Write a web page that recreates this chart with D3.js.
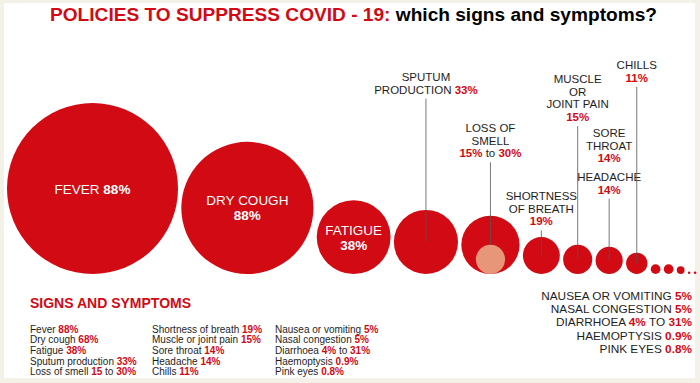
<!DOCTYPE html>
<html>
<head>
<meta charset="utf-8">
<title>Policies to suppress COVID-19: which signs and symptoms?</title>
<style>
  html, body { margin: 0; padding: 0; background: #f3f1e8; }
  svg { display: block; font-family: 'Liberation Sans', Arial, Helvetica, sans-serif; }
</style>
</head>
<body>
<svg id="svg" width="700" height="383"></svg>
<script src="https://cdn.jsdelivr.net/npm/d3@7"></script>
<script>
// circles, in order left to right
const symptoms = ['Fever', 'Dry cough', 'Fatigue', 'Sputum production', 'Loss of smell',
  'Shortness of breath', 'Muscle or joint pain', 'Sore throat / Headache', 'Chills',
  'Nausea or vomiting', 'Nasal congestion', 'Diarrhoea', 'Haemoptysis', 'Pink eyes'];
const rates = [88, 68, 38, 33, 30, 19, 15, 14, 11, 5, 5, 4, 0.9, 0.8];
const lowRates = [null, null, null, null, 15, null, null, null, null, null, null, null, null, null];

// labels; text between * is highlighted
const insideLabels = [['FEVER *88%*'], ['DRY COUGH', '*88%*'], ['FATIGUE', '*38%*']];
const outsideLabels = [
  { idx: 3, lines: ['SPUTUM', 'PRODUCTION *33%*'] },
  { idx: 4, lines: ['LOSS OF', 'SMELL', '*15%* to *30%*'] },
  { idx: 5, lines: ['SHORTNESS', 'OF BREATH', '*19%*'] },
  { idx: 6, lines: ['MUSCLE', 'OR', 'JOINT PAIN', '*15%*'] },
  { idx: 7, lines: ['SORE', 'THROAT', '*14%*'], noLine: true },
  { idx: 7, lines: ['HEADACHE', '*14%*'] },
  { idx: 8, lines: ['CHILLS', '*11%*'] }
];
const outsideTop = [77, 128, 196, 79, 133, 177, 65];

const legendItems = [
  'Fever *88%*', 'Dry cough *68%*', 'Fatigue *38%*', 'Sputum production *33%*', 'Loss of smell *15* to *30%*',
  'Shortness of breath *19%*', 'Muscle or joint pain *15%*', 'Sore throat *14%*', 'Headache *14%*', 'Chills *11%*',
  'Nausea or vomiting *5%*', 'Nasal congestion *5%*', 'Diarrhoea *4%* to *31%*', 'Haemoptysis *0.9%*', 'Pink eyes *0.8%*'
];
const minorItems = ['NAUSEA OR VOMITING *5%*', 'NASAL CONGESTION *5%*', 'DIARRHOEA *4%* TO *31%*',
  'HAEMOPTYSIS *0.9%*', 'PINK EYES *0.8%*'];

const RED = '#d10a14';
const INK = '#1e1e1e';

const svg = d3.select('#svg');

svg.append('rect')
  .attr('x', 4).attr('y', 3).attr('width', 691).attr('height', 375)
  .attr('fill', '#fff');

// mixed text helper
function writeLine(sel, str, hiFill, hiWeight) {
  str.split('*').forEach((part, i) => {
    if (!part) return;
    const t = sel.append('tspan').text(part);
    if (i % 2 === 1) t.attr('fill', hiFill).attr('font-weight', hiWeight);
  });
}

// title
const title = svg.append('text')
  .attr('x', 50).attr('y', 21)
  .attr('font-size', 17.5).attr('font-weight', 'bold')
  .attr('textLength', 607).attr('lengthAdjust', 'spacingAndGlyphs');
title.append('tspan').attr('fill', RED).text('POLICIES TO SUPPRESS COVID - 19:');
title.append('tspan').attr('fill', '#000').text(' which signs and symptoms?');

// circles
const rscale = d3.scaleLinear().domain([0, 88]).range([0, 85.5]);
const baseY = 274;
const gap = 3.3;
let xpos = 7;
const circles = rates.map((v, i) => {
  const r = Math.max(rscale(v), 1.3);
  const c = { name: symptoms[i], value: v, low: lowRates[i], r: r, cx: xpos + r, cy: baseY - r };
  xpos += 2 * r + gap;
  return c;
});

const g = svg.append('g');
g.selectAll('circle.main')
  .data(circles)
  .join('circle')
  .attr('class', 'main')
  .attr('cx', d => d.cx).attr('cy', d => d.cy).attr('r', d => d.r)
  .attr('fill', RED);

g.selectAll('circle.low')
  .data(circles.filter(d => d.low != null))
  .join('circle')
  .attr('class', 'low')
  .attr('cx', d => d.cx)
  .attr('cy', d => baseY - rscale(d.low))
  .attr('r', d => rscale(d.low))
  .attr('fill', '#e8967a');

// labels inside the big circles
insideLabels.forEach((lines, i) => {
  const c = circles[i];
  const lh = 15;
  const t = g.append('text')
    .attr('text-anchor', 'middle')
    .attr('font-size', 13.5)
    .attr('fill', '#fff');
  lines.forEach((ln, j) => {
    const row = t.append('tspan')
      .attr('x', c.cx)
      .attr('y', c.cy + (j - (lines.length - 1) / 2) * lh + 5);
    writeLine(row, ln, '#fff', 'bold');
  });
});

// labels above the smaller circles, with leader lines
outsideLabels.forEach((lab, k) => {
  const c = circles[lab.idx];
  const lh = 12.7;
  const top = outsideTop[k];
  const t = g.append('text')
    .attr('text-anchor', 'middle')
    .attr('font-size', 11.5)
    .attr('fill', INK);
  lab.lines.forEach((ln, j) => {
    const row = t.append('tspan')
      .attr('x', c.cx)
      .attr('y', top + j * lh + 4);
    writeLine(row, ln, RED, 'bold');
  });
  if (!lab.noLine) {
    const y1 = top + (lab.lines.length - 1) * lh + 9;
    const y2 = c.low != null ? baseY - 2 * rscale(c.low) : c.cy;
    g.append('line')
      .attr('x1', c.cx).attr('x2', c.cx)
      .attr('y1', y1).attr('y2', y2)
      .attr('stroke', '#555').attr('stroke-width', 0.8);
  }
});

// minor symptoms list, bottom right
minorItems.forEach((s, i) => {
  const t = svg.append('text')
    .attr('x', 692).attr('y', 300 + i * 13.2)
    .attr('text-anchor', 'end')
    .attr('font-size', 11.8)
    .attr('fill', INK);
  writeLine(t, s, RED, 'bold');
});

// legend block
svg.append('text')
  .attr('x', 30).attr('y', 308)
  .attr('font-size', 14).attr('font-weight', 'bold')
  .attr('fill', RED)
  .text('SIGNS AND SYMPTOMS');

const colX = [30, 152, 275];
legendItems.forEach((s, i) => {
  const col = Math.floor(i / 5), row = i % 5;
  const t = svg.append('text')
    .attr('x', colX[col]).attr('y', 332.5 + row * 10.7)
    .attr('font-size', 10)
    .attr('fill', INK);
  writeLine(t, s, RED, 'bold');
});
</script>
</body>
</html>
